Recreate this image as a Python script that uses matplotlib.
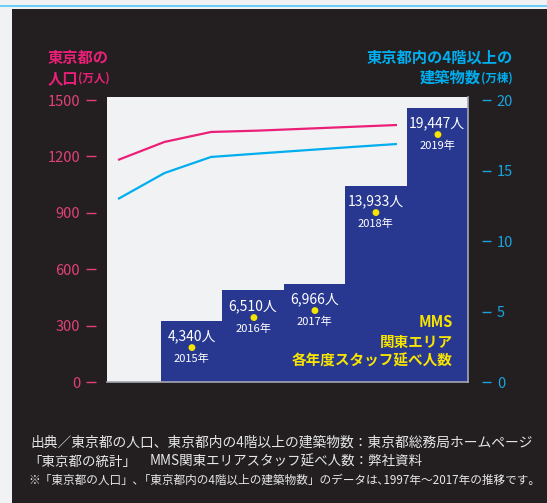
import matplotlib
matplotlib.use("Agg")
import matplotlib.pyplot as plt
from matplotlib.patches import Rectangle

plt.rcParams["font.family"] = ["Noto Sans CJK JP", "DejaVu Sans"]

# Data
line_points = [0, 1, 2, 3, 4, 5, 6]  # 1997 -> 2017, evenly spaced samples
population = [1181, 1277, 1330, 1337, 1347, 1357, 1367]  # 万人
buildings = [12.98, 14.82, 15.96, 16.20, 16.43, 16.66, 16.88]  # 万棟

staff_years = ["2015年", "2016年", "2017年", "2018年", "2019年"]
staff_counts = [4340, 6510, 6966, 13933, 19447]
staff_labels = ["4,340人", "6,510人", "6,966人", "13,933人", "19,447人"]

left_ticks = [0, 300, 600, 900, 1200, 1500]
right_ticks = [0, 5, 10, 15, 20]

# Colours
dark = "#231f20"
paper = "#f1f2f4"
pink = "#ec1f78"
pink_text = "#e2417a"
cyan = "#00aeef"
cyan_text = "#1aa3dc"
navy = "#283891"
yellow = "#f7e400"

W, H = 547, 503
fig = plt.figure(figsize=(W / 100, H / 100), dpi=100)
fig.patch.set_facecolor(paper)

# dark panel and thin cyan line at the top
fig.add_artist(Rectangle((12 / W, 0), 1, 1 - 9 / H, transform=fig.transFigure,
                         facecolor=dark, edgecolor="none", zorder=0))
fig.add_artist(Rectangle((0, 1 - 7 / H), 1, 2 / H, transform=fig.transFigure,
                         facecolor="#6dcff6", edgecolor="none", zorder=0))

rect = [107 / W, 1 - 382 / H, (468 - 107) / W, (382 - 97) / H]

# bar axes (background)
axb = fig.add_axes(rect)
axb.set_facecolor(paper)
bar_pos = list(range(len(staff_counts)))
axb.bar(bar_pos, staff_counts, width=1.0, color=navy, align="center")
axb.set_xlim(-1.38, 4.5)
axb.set_ylim(0, 20000 * 285 / 282)
axb.set_xticks([])
axb.set_yticks([])
for side in ["left", "top"]:
    axb.spines[side].set_visible(False)
for side in ["bottom", "right"]:
    axb.spines[side].set_color("#a4a6b4")
    axb.spines[side].set_linewidth(1.2)

for x, v, lab, yr in zip(bar_pos, staff_counts, staff_labels, staff_years):
    axb.annotate(lab, (x, v), xytext=(0, -11.5), textcoords="offset points",
                 ha="center", va="center", color="white", fontsize=10)
    axb.annotate("●", (x, v), xytext=(0, -19.5), textcoords="offset points",
                 ha="center", va="center", color=yellow, fontsize=6.5,
                 family="DejaVu Sans")
    axb.annotate(yr, (x, v), xytext=(0, -27.5), textcoords="offset points",
                 ha="center", va="center", color="white", fontsize=8)

for txt, y in zip(["MMS", "関東エリア", "各年度スタッフ延べ人数"], [322, 342, 361]):
    fig.text(453 / W, 1 - y / H, txt, ha="right", va="center", color=yellow,
             fontsize=10.5, fontweight="bold")

# line axes
ax = fig.add_axes(rect)
ax.set_facecolor("none")
ax.plot(line_points, population, color=pink, lw=1.6, solid_capstyle="butt")
ax.set_xlim(-0.237, 7.527)
ax.set_ylim(0, 1500 * 285 / 282)
ax.set_yticks(left_ticks)
ax.set_xticks([])
ax.tick_params(axis="y", length=7, width=1, color=pink_text,
               labelcolor=pink_text, labelsize=10.5, pad=4.3)
for side in ax.spines:
    ax.spines[side].set_visible(False)
ax.spines["left"].set_position(("outward", 8))

ax2 = ax.twinx()
ax2.plot(line_points, buildings, color=cyan, lw=1.6, solid_capstyle="butt")
ax2.set_ylim(0, 20 * 285 / 282)
ax2.set_yticks(right_ticks)
ax2.tick_params(axis="y", length=6.5, width=1, color=cyan_text,
                labelcolor=cyan_text, labelsize=10.5, pad=4.3)
for side in ax2.spines:
    ax2.spines[side].set_visible(False)
ax2.spines["right"].set_position(("outward", 10))

# axis headers
fig.text(48 / W, 1 - 58 / H, "東京都の", color=pink, fontsize=11,
         fontweight="bold", va="center", ha="left")
fig.text(48 / W, 1 - 78 / H, "人口", color=pink, fontsize=11,
         fontweight="bold", va="center", ha="left")
fig.text(78 / W, 1 - 78 / H, "(万人)", color=pink, fontsize=8.3,
         fontweight="bold", va="center", ha="left")
fig.text(513 / W, 1 - 58 / H, "東京都内の4階以上の", color=cyan, fontsize=11,
         fontweight="bold", va="center", ha="right")
fig.text(481 / W, 1 - 78 / H, "建築物数", color=cyan, fontsize=11,
         fontweight="bold", va="center", ha="right")
fig.text(513 / W, 1 - 78 / H, "(万棟)", color=cyan, fontsize=8.3,
         fontweight="bold", va="center", ha="right")

# footnotes
note = "#e8e8e8"
fig.text(30 / W, 1 - 443 / H,
         "出典／東京都の人口、東京都内の4階以上の建築物数：東京都総務局ホームページ",
         color=note, fontsize=9.9, va="center", ha="left")
fig.text(28 / W, 1 - 462 / H, "「東京都の統計」", color=note, fontsize=9.7,
         va="center", ha="left")
fig.text(150 / W, 1 - 462 / H, "MMS関東エリアスタッフ延べ人数：弊社資料",
         color=note, fontsize=9.7, va="center", ha="left")
fig.text(28 / W, 1 - 480 / H,
         "※「東京都の人口」､「東京都内の4階以上の建築物数」のデータは､1997年～2017年の推移です。",
         color=note, fontsize=8.4, va="center", ha="left")

fig.savefig("out.png", dpi=100, facecolor=fig.get_facecolor())
